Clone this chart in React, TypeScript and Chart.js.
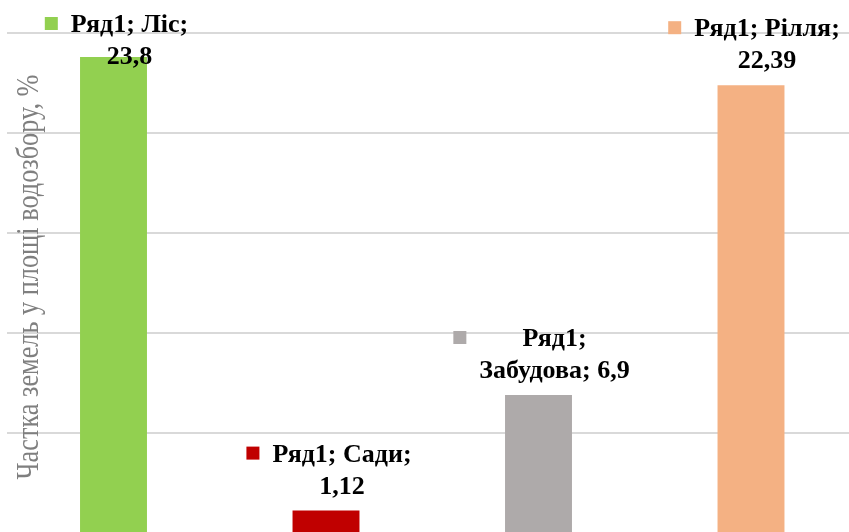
import React, { useEffect, useRef } from "react";
import { Chart, registerables } from "chart.js";

Chart.register(...registerables);

const seriesName = "Ряд1";
const categories = ["Ліс", "Сади", "Забудова", "Рілля"];
const values = [23.8, 1.12, 6.9, 22.39];
const barColors = ["#92D050", "#C00000", "#AEAAAA", "#F4B183"];
const yTitle = "Частка земель у площі водозбору, %";
const yMin = 0;
const yMax = 25;
const yStep = 5;

const LABEL_FONT = "bold 26px 'Liberation Serif', 'Times New Roman', serif";

function wrapWords(ctx: CanvasRenderingContext2D, text: string, maxW: number): string[] {
  const words = text.split(" ");
  const lines: string[] = [];
  let cur = "";
  for (const w of words) {
    const t = cur ? cur + " " + w : w;
    if (cur && ctx.measureText(t).width > maxW) {
      lines.push(cur);
      cur = w;
    } else cur = t;
  }
  if (cur) lines.push(cur);
  return lines;
}

const overlayPlugin = {
  id: "overlay",
  afterDatasetsDraw(chart: any) {
    const ctx: CanvasRenderingContext2D = chart.ctx;
    const meta = chart.getDatasetMeta(0);
    ctx.save();
    ctx.font = LABEL_FONT;
    ctx.textBaseline = "alphabetic";
    ctx.textAlign = "center";
    meta.data.forEach((bar: any, i: number) => {
      const valText = String(values[i]).replace(".", ",");
      const full = `${seriesName}; ${categories[i]}; ${valText}`;
      const lines = wrapWords(ctx, full, 165);
      const lh = 32;
      let lastBase = bar.y - 17;
      let firstBase = lastBase - lh * (lines.length - 1);
      if (firstBase < 32) {
        firstBase = 32;
        lastBase = firstBase + lh * (lines.length - 1);
      }
      const cx = bar.x + 16;
      const maxW = Math.max(...lines.map((l) => ctx.measureText(l).width));
      const left = cx - maxW / 2;
      ctx.fillStyle = barColors[i];
      ctx.fillRect(left - 26, firstBase - 15, 13, 13);
      ctx.fillStyle = "#000000";
      lines.forEach((l, k) => {
        ctx.fillText(l, cx, firstBase + k * lh);
      });
    });
    // y axis title
    ctx.font = "31px 'Liberation Serif', 'Times New Roman', serif";
    ctx.fillStyle = "#7F7F7F";
    const w = ctx.measureText(yTitle).width;
    const targetLen = 405;
    ctx.translate(38, 277);
    ctx.rotate(-Math.PI / 2);
    ctx.scale(targetLen / w, 1);
    ctx.textAlign = "center";
    ctx.fillText(yTitle, 0, 0);
    ctx.restore();
  },
};

export default function App() {
  const ref = useRef<HTMLCanvasElement | null>(null);
  useEffect(() => {
    const canvas = ref.current!;
    const chart = new Chart(canvas, {
      type: "bar",
      data: {
        labels: categories,
        datasets: [
          {
            label: seriesName,
            data: values,
            backgroundColor: barColors,
            borderWidth: 0,
            categoryPercentage: 1,
            barPercentage: 0.315,
          },
        ],
      },
      options: {
        responsive: false,
        animation: false,
        layout: { padding: { left: 7.25, top: 33, right: 12.75, bottom: 27 } },
        plugins: { legend: { display: false }, tooltip: { enabled: false } },
        scales: {
          x: { display: false },
          y: {
            min: yMin,
            max: yMax,
            ticks: { display: false, stepSize: yStep },
            border: { display: false },
            grid: { color: "#D9D9D9", lineWidth: 2, drawTicks: false },
          },
        },
      },
      plugins: [overlayPlugin],
    });
    return () => chart.destroy();
  }, []);
  return (
    <div style={{ position: "fixed", left: 0, top: 0, width: 849, height: 532, overflow: "hidden", background: "#fff" }}>
      <canvas ref={ref} width={870} height={560} style={{ display: "block" }} />
    </div>
  );
}
